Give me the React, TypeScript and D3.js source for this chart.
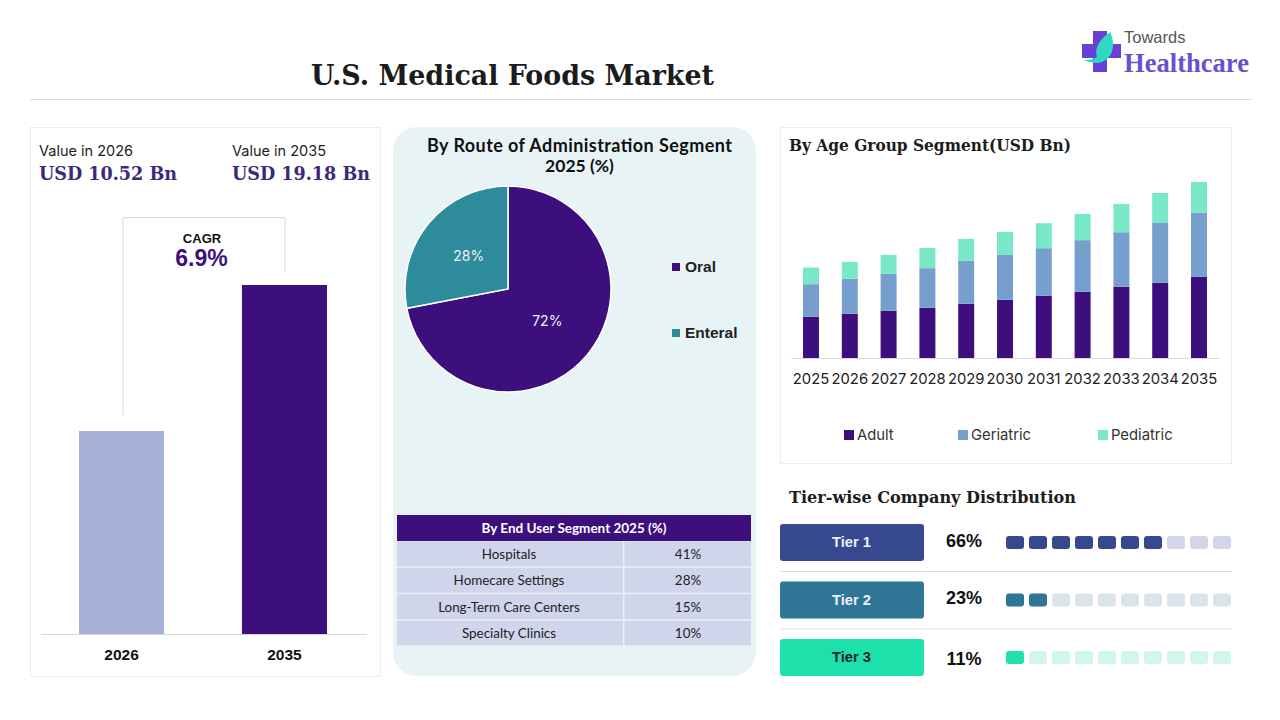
// App.tsx
// @ts-nocheck
import * as d3 from "d3";
import React, { useRef, useEffect } from "react";

const valueYears = ["2026", "2035"];
const marketValues = [10.52, 19.18];

const routeLabels = ["Oral", "Enteral"];
const routeShares = [72, 28];

const endUserLabels = ["Hospitals", "Homecare Settings", "Long-Term Care Centers", "Specialty Clinics"];
const endUserShares = [41, 28, 15, 10];

const ageYears = ["2025", "2026", "2027", "2028", "2029", "2030", "2031", "2032", "2033", "2034", "2035"];
const ageSeries = ["Adult", "Geriatric", "Pediatric"];
const adult = [4.5, 4.83, 5.16, 5.48, 5.92, 6.35, 6.79, 7.23, 7.77, 8.21, 8.86];
const geriatric = [3.56, 3.82, 4.03, 4.33, 4.69, 4.91, 5.2, 5.64, 5.96, 6.54, 6.98];
const pediatric = [1.82, 1.85, 2.07, 2.21, 2.4, 2.51, 2.73, 2.87, 3.08, 3.27, 3.38];

const tierLabels = ["Tier 1", "Tier 2", "Tier 3"];
const tierShares = [66, 23, 11];
const tierFilled = [7, 2, 1];

const PURPLE = "#3c0f7d";
const SANS = "Inter, 'Liberation Sans', sans-serif";
const ARIAL = "'Liberation Sans', Arial, sans-serif";
const SERIF = "'DejaVu Serif', serif";
const LATO = "Lato, sans-serif";

export default function App() {
  const svgRef = useRef<SVGSVGElement | null>(null);

  useEffect(() => {
    const svg = d3.select(svgRef.current);
    svg.selectAll("*").remove();

    const text = (s, x, y, size, opts: any = {}) => {
      const t = svg.append("text")
        .attr("x", x).attr("y", y)
        .attr("font-size", size)
        .attr("font-family", opts.font || SANS)
        .attr("font-weight", opts.weight || 400)
        .attr("fill", opts.fill || "#222")
        .attr("text-anchor", opts.anchor || "start")
        .text(s);
      // the serif in the original is narrower than DejaVu, so squeeze it to the same width
      if (opts.len) t.attr("textLength", opts.len).attr("lengthAdjust", opts.adjust || "spacingAndGlyphs");
      return t;
    };

    // header
    text("U.S. Medical Foods Market", 311, 85, 28.5, { font: SERIF, weight: 700, fill: "#1c1c1c", len: 403 });
    svg.append("line").attr("x1", 30).attr("x2", 1252).attr("y1", 99.5).attr("y2", 99.5).attr("stroke", "#dedede");

    // logo
    svg.append("path").attr("d", "M1093 31h14v13h14v14h-14v14h-14v-14h-11v-14h11z").attr("fill", "#6a3fd6");
    svg.append("path").attr("d", "M1110 32C1117 46 1112 61 1098 63C1093 63 1088 62 1084 60C1090 60 1094 59 1097 57C1094 48 1100 39 1110 32Z").attr("fill", "#2fd9c0");
    text("Towards", 1124, 43, 16.5, { font: ARIAL, fill: "#555" });
    text("Healthcare", 1124, 72, 27, { font: "'Liberation Serif', serif", weight: 700, fill: "#6b4fd0", len: 125 });

    // left card
    svg.append("rect").attr("x", 30.5).attr("y", 127.5).attr("width", 350).attr("height", 549).attr("fill", "#fff").attr("stroke", "#ececec");
    text("Value in 2026", 39, 156, 14.5);
    text("Value in 2035", 232, 156, 14.5);
    text("USD 10.52 Bn", 39, 180, 18.5, { font: SERIF, weight: 700, fill: "#3b2a7c", len: 138 });
    text("USD 19.18 Bn", 232, 180, 18.5, { font: SERIF, weight: 700, fill: "#3b2a7c", len: 138 });

    svg.append("path").attr("d", "M123 415V217.5H285V272").attr("fill", "none").attr("stroke", "#d9d9d9");
    text("CAGR", 202, 243, 13, { font: ARIAL, weight: 700, fill: "#111", anchor: "middle" });
    text("6.9%", 201.5, 266, 23, { font: ARIAL, weight: 700, fill: PURPLE, anchor: "middle" });

    const valueX = d3.scaleBand().domain(valueYears).range([79, 327]).paddingInner(0.478);
    // the original bars do not start from zero, so the lower end sits below it
    const valueY = d3.scaleLinear().domain([-1.52, 19.18]).range([634, 285]);
    svg.append("g").selectAll("rect").data(valueYears).join("rect")
      .attr("x", d => valueX(d))
      .attr("y", (d, i) => valueY(marketValues[i]))
      .attr("width", valueX.bandwidth())
      .attr("height", (d, i) => 634 - valueY(marketValues[i]))
      .attr("fill", (d, i) => (i === 0 ? "#a6b1d9" : PURPLE));
    svg.append("line").attr("x1", 41).attr("x2", 367).attr("y1", 634.5).attr("y2", 634.5).attr("stroke", "#d9d9d9");
    valueYears.forEach(y => {
      text(y, valueX(y) + valueX.bandwidth() / 2, 660, 15.5, { font: ARIAL, weight: 700, fill: "#111", anchor: "middle" });
    });

    // middle panel
    svg.append("rect").attr("x", 393).attr("y", 127).attr("width", 363).attr("height", 549).attr("rx", 24).attr("fill", "#e8f3f6");
    text("By Route of Administration Segment", 427, 152, 18, { font: LATO, weight: 700, fill: "#111", len: 305, adjust: "spacing" });
    text("2025 (%)", 579.5, 172, 17.5, { font: LATO, weight: 700, fill: "#111", anchor: "middle" });

    const pieColors = d3.scaleOrdinal<string>().domain(routeLabels).range([PURPLE, "#2e8b9b"]);
    const pie = d3.pie<number>().sort(null)(routeShares);
    const arc = d3.arc().innerRadius(0).outerRadius(103);
    const labelArc = d3.arc().innerRadius(51).outerRadius(51);
    const pieG = svg.append("g").attr("transform", "translate(508,289)");
    pieG.selectAll("path").data(pie).join("path")
      .attr("d", arc as any)
      .attr("fill", (d, i) => pieColors(routeLabels[i]))
      .attr("stroke", "#fff")
      .attr("stroke-width", 1.5);
    pieG.selectAll("text").data(pie).join("text")
      .attr("transform", d => `translate(${labelArc.centroid(d as any)})`)
      .attr("text-anchor", "middle")
      .attr("dy", "0.35em")
      .attr("font-size", 14)
      .attr("font-family", SANS)
      .attr("fill", "#f2f2f2")
      .text(d => `${d.value}%`);

    routeLabels.forEach((l, i) => {
      const y = [267, 333][i];
      svg.append("rect").attr("x", 672).attr("y", y - 4).attr("width", 8).attr("height", 8).attr("fill", pieColors(l));
      text(l, 685, y + 5, 15.5, { font: ARIAL, weight: 700, fill: "#222" });
    });

    // end user table
    const rowY = d3.scaleBand().domain(endUserLabels).range([541, 646.5]);
    svg.append("rect").attr("x", 397).attr("y", 515).attr("width", 354).attr("height", 26).attr("fill", PURPLE);
    text("By End User Segment 2025 (%)", 574, 533, 13.5, { font: LATO, weight: 700, fill: "#fff", anchor: "middle" });
    endUserLabels.forEach((l, i) => {
      const y = rowY(l);
      svg.append("rect").attr("x", 397).attr("y", y + 0.5).attr("width", 226).attr("height", rowY.bandwidth() - 1.5).attr("fill", "#d0d5eb");
      svg.append("rect").attr("x", 624.5).attr("y", y + 0.5).attr("width", 126.5).attr("height", rowY.bandwidth() - 1.5).attr("fill", "#d0d5eb");
      text(l, 509, y + 18, 13.4, { font: LATO, fill: "#222", anchor: "middle" });
      text(`${endUserShares[i]}%`, 688, y + 18, 13.4, { font: LATO, fill: "#222", anchor: "middle" });
    });

    // age group card
    svg.append("rect").attr("x", 780.5).attr("y", 127.5).attr("width", 451).attr("height", 336).attr("fill", "#fff").attr("stroke", "#ececec");
    text("By Age Group Segment(USD Bn)", 789, 151, 16.5, { font: SERIF, weight: 700, fill: "#1c1c1c", len: 282 });

    const rows = ageYears.map((y, i) => ({ year: y, Adult: adult[i], Geriatric: geriatric[i], Pediatric: pediatric[i] }));
    const stacked = d3.stack().keys(ageSeries)(rows as any);
    const ageX = d3.scaleBand().domain(ageYears).range([803, 1207]).paddingInner(0.588);
    const ageY = d3.scaleLinear().domain([0, 19.22]).range([358, 182]);
    const ageColor = d3.scaleOrdinal<string>().domain(ageSeries).range([PURPLE, "#779fce", "#78e8c9"]);
    svg.append("g").selectAll("g").data(stacked).join("g")
      .attr("fill", d => ageColor(d.key))
      .selectAll("rect").data(d => d).join("rect")
      .attr("x", d => ageX((d.data as any).year))
      .attr("y", d => ageY(d[1]))
      .attr("width", ageX.bandwidth())
      .attr("height", d => ageY(d[0]) - ageY(d[1]));

    svg.append("line").attr("x1", 791).attr("x2", 1220).attr("y1", 358.5).attr("y2", 358.5).attr("stroke", "#dcd8e4");
    const ageAxis = svg.append("g")
      .attr("transform", "translate(0,358.5)")
      .call(d3.axisBottom(ageX).tickSize(0).tickPadding(15));
    ageAxis.select(".domain").remove();
    ageAxis.selectAll("text").attr("font-size", 14.8).attr("font-family", SANS).attr("fill", "#222");

    ageSeries.forEach((s, i) => {
      const x = [844, 958, 1098][i];
      svg.append("rect").attr("x", x).attr("y", 430).attr("width", 10).attr("height", 10).attr("fill", ageColor(s));
      text(s, x + 13, 440, 14.8, { fill: "#333" });
    });

    // tiers
    text("Tier-wise Company Distribution", 789, 503, 17, { font: SERIF, weight: 700, fill: "#1c1c1c", len: 287 });
    const tierColors = ["#36498f", "#2e7596", "#1ee0ab"];
    const tierLight = ["#d3d6ea", "#d9e5ea", "#d0f7e9"];
    const tierY = d3.scaleBand().domain(tierLabels).range([524, 696.5]);
    const cellX = d3.scaleBand().domain(d3.range(10).map(String)).range([1006, 1231]).paddingInner(0.217);
    tierLabels.forEach((l, i) => {
      const y = tierY(l);
      svg.append("rect").attr("x", 780).attr("y", y).attr("width", 144).attr("height", 37).attr("rx", 3).attr("fill", tierColors[i]);
      text(l, 851.5, y + 23, 14.7, { font: ARIAL, weight: 700, fill: i === 2 ? "#123" : "#eef", anchor: "middle" });
      text(`${tierShares[i]}%`, 964, y + [23, 22.5, 26][i], 18, { font: ARIAL, weight: 700, fill: "#111", anchor: "middle" });
      svg.append("g").selectAll("rect").data(cellX.domain()).join("rect")
        .attr("x", d => cellX(d))
        .attr("y", y + 12)
        .attr("width", cellX.bandwidth())
        .attr("height", 13)
        .attr("rx", 3)
        .attr("fill", (d, j) => (j < tierFilled[i] ? tierColors[i] : tierLight[i]));
      if (i < 2) {
        svg.append("line").attr("x1", 780).attr("x2", 1232).attr("y1", y + 47.5).attr("y2", y + 47.5).attr("stroke", "#dedede");
      }
    });
  }, []);

  return (
    <svg
      ref={svgRef}
      width={1280}
      height={720}
      style={{ position: "absolute", left: 0, top: 0, background: "#fff" }}
    />
  );
}
